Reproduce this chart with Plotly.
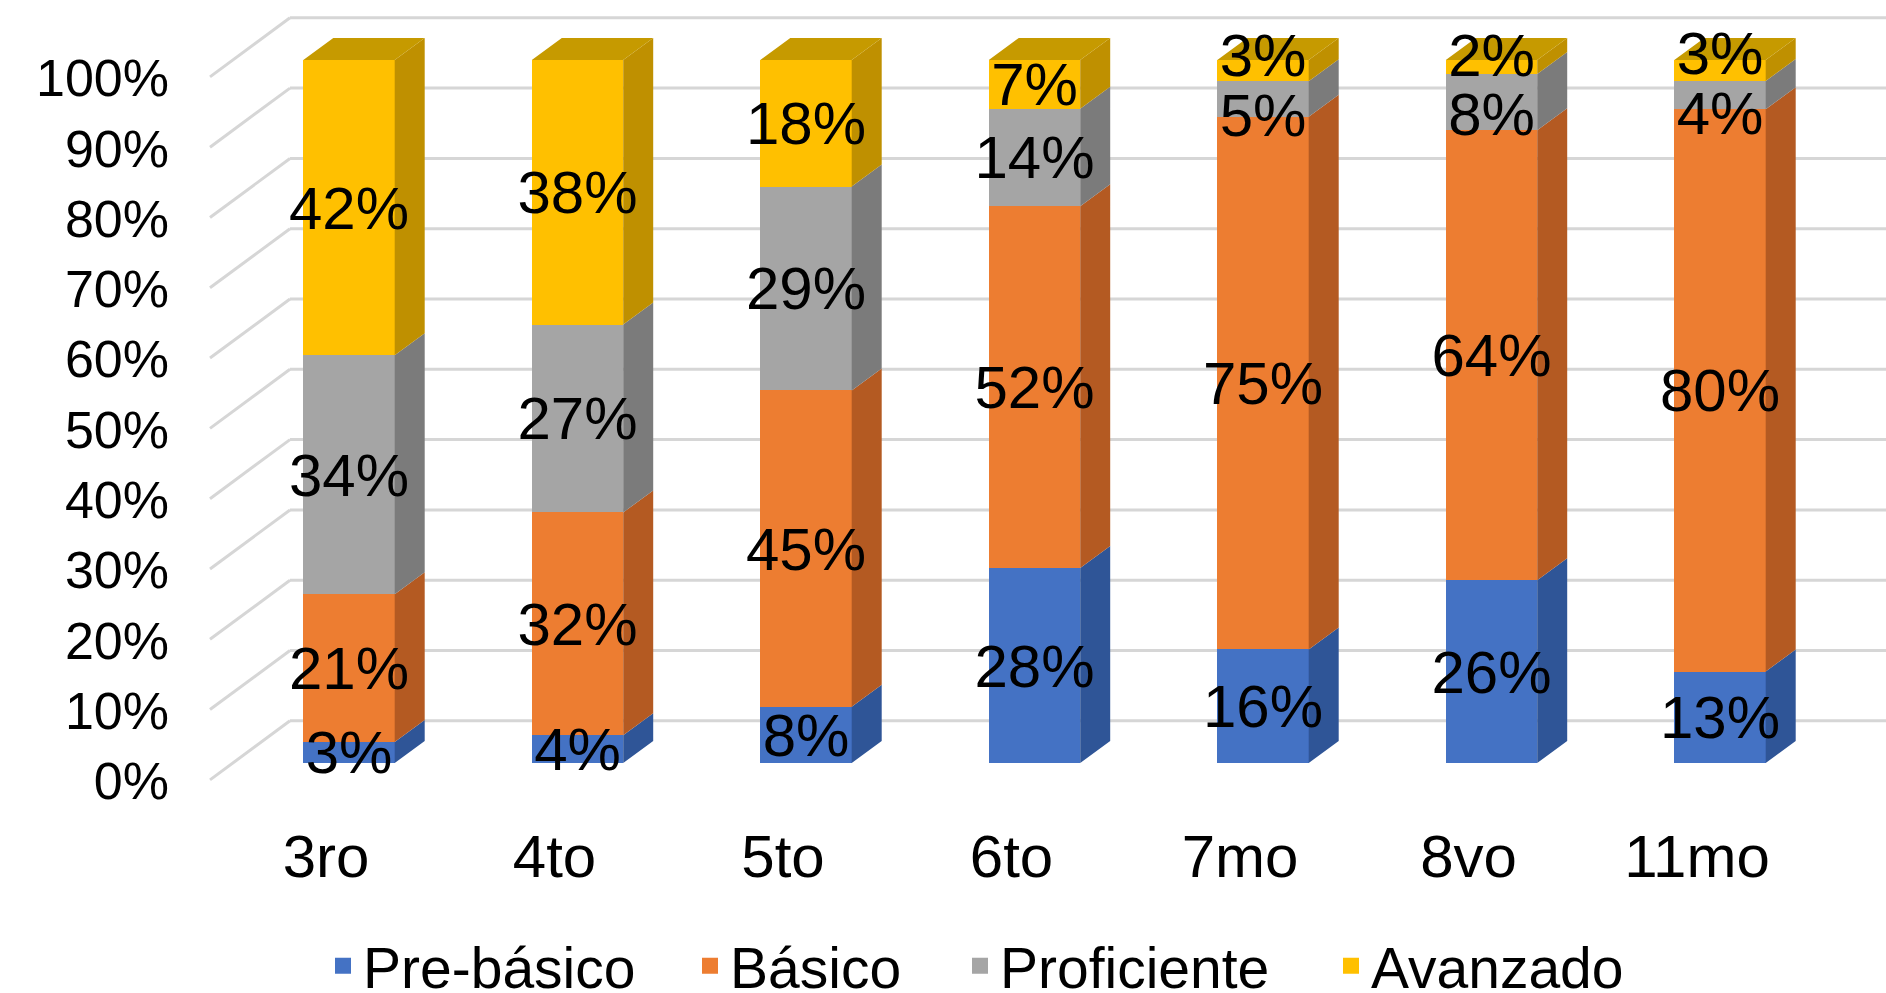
import numpy as np
import plotly.graph_objects as go

# ---------------- data ----------------
categories = ["3ro", "4to", "5to", "6to", "7mo", "8vo", "11mo"]
series_names = ["Pre-básico", "Básico", "Proficiente", "Avanzado"]
pre_basico = [3, 4, 8, 28, 16, 26, 13]
basico = [21, 32, 45, 52, 75, 64, 80]
proficiente = [34, 27, 29, 14, 5, 8, 4]
avanzado = [42, 38, 18, 7, 3, 2, 3]
y_ticks = [0, 10, 20, 30, 40, 50, 60, 70, 80, 90, 100]

# ---------------- style ----------------
front_colors = ["#4472C4", "#ED7D31", "#A5A5A5", "#FFC000"]
side_colors = ["#2F5597", "#B45A22", "#7B7B7B", "#BF9000"]
top_colors = ["#3A64B0", "#CC6A28", "#8E8E8E", "#C69A00"]
FONT = "Liberation Sans, Arial, sans-serif"
GRID = "#D6D6D6"
legend_left_px = [323, 690, 960, 1331]   # left edge of each legend entry box

W, H = 1886, 993
ML, MB = 170, 177
px_per_cat = 228.5
first_cat_px = 349
px_per_pct = 7.03
zero_px = 763

x0 = -(first_cat_px - ML) / px_per_cat
x1 = x0 + (W - ML) / px_per_cat
y_hi = zero_px / px_per_pct
y_lo = -((H - MB) - zero_px) / px_per_pct

BW = 0.40                      # bar front width (category units)
DX = 30 / px_per_cat           # depth offset (x)
DY = 22 / px_per_pct           # depth offset (y)
WALL_DY = 6.0                  # back wall offset
FLOOR_DY = -2.4                # front edge of side wall
WALL_X_FRONT = x0 + (210 - ML) / px_per_cat
WALL_X_BACK = x0 + (290 - ML) / px_per_cat
LABEL_MIN_SEP = 8.5            # min vertical separation of data labels (value units)
LABEL_DROP = 0.85              # visual centering correction for text (value units)

vals = np.array([pre_basico, basico, proficiente, avanzado], dtype=float)
idx = np.arange(len(categories))
pct = vals / vals.sum(axis=0) * 100
tops = np.cumsum(pct, axis=0)
bases = tops - pct

# label positions: segment middles, pushed apart when too close
label_y = (bases + tops) / 2
for i in idx:
    for s in range(1, len(series_names)):
        gap = label_y[s, i] - label_y[s - 1, i]
        if gap < LABEL_MIN_SEP:
            push = (LABEL_MIN_SEP - gap) / 2
            label_y[s, i] += push
            label_y[s - 1, i] -= push
label_y = label_y - LABEL_DROP

fig = go.Figure()

# front faces
for s in range(len(series_names)):
    fig.add_trace(go.Bar(
        x=idx, y=vals[s], width=BW, marker=dict(color=front_colors[s], line=dict(width=0)),
        showlegend=False, hoverinfo="skip"))

# side faces
for s in range(len(series_names)):
    xs, ys = [], []
    for i in idx:
        xr = i + BW / 2
        b, t = bases[s, i], tops[s, i]
        xs += [xr, xr + DX, xr + DX, xr, xr, None]
        ys += [b, b + DY, t + DY, t, b, None]
    fig.add_trace(go.Scatter(x=xs, y=ys, mode="lines", fill="toself",
                             fillcolor=side_colors[s], line=dict(width=0, color=side_colors[s]),
                             showlegend=False, hoverinfo="skip"))

# top faces (top segment of each bar)
xs, ys = [], []
for i in idx:
    xl, xr = i - BW / 2, i + BW / 2
    t = tops[-1, i]
    xs += [xl, xl + DX, xr + DX, xr, xl, None]
    ys += [t, t + DY, t + DY, t, t, None]
fig.add_trace(go.Scatter(x=xs, y=ys, mode="lines", fill="toself",
                         fillcolor=top_colors[-1], line=dict(width=0, color=top_colors[-1]),
                         showlegend=False, hoverinfo="skip"))

# data labels
for s in range(len(series_names)):
    fig.add_trace(go.Scatter(
        x=idx, y=label_y[s], mode="text",
        text=[f"{int(v)}%" for v in vals[s]], textposition="middle center",
        textfont=dict(family=FONT, size=60, color="#000000"),
        showlegend=False, hoverinfo="skip"))

# legend entries (one small legend per series so spacing matches)
legend_layouts = {}
for s in range(len(series_names)):
    key = "legend" if s == 0 else f"legend{s + 1}"
    fig.add_trace(go.Scatter(x=[None], y=[None], mode="markers", name=series_names[s],
                             legend=key,
                             marker=dict(symbol="square", size=20, color=front_colors[s])))
    legend_layouts[key] = dict(
        orientation="h", xref="container", yref="container",
        x=legend_left_px[s] / W, xanchor="left", y=0.027, yanchor="middle",
        font=dict(family=FONT, size=57, color="#000000"),
        itemwidth=30, bgcolor="rgba(0,0,0,0)")

# gridlines (back wall + slanted side wall)
shapes = []
for v in y_ticks:
    shapes.append(dict(type="line", xref="x", yref="y", layer="below",
                       x0=WALL_X_FRONT, y0=v + FLOOR_DY, x1=WALL_X_BACK, y1=v + WALL_DY,
                       line=dict(color=GRID, width=3)))
    shapes.append(dict(type="line", xref="x", yref="y", layer="below",
                       x0=WALL_X_BACK, y0=v + WALL_DY, x1=x1, y1=v + WALL_DY,
                       line=dict(color=GRID, width=3)))

fig.update_layout(
    width=W, height=H,
    margin=dict(l=ML, r=0, t=0, b=MB),
    paper_bgcolor="white", plot_bgcolor="white",
    barmode="stack", barnorm="percent", bargap=0,
    shapes=shapes,
    font=dict(family=FONT, color="#000000"),
    showlegend=True,
    xaxis=dict(range=[x0, x1], tickvals=list(idx), ticktext=categories,
               showgrid=False, zeroline=False, showline=False, ticks="",
               ticklabelshift=-23, tickfont=dict(family=FONT, size=60, color="#000000")),
    yaxis=dict(range=[y_lo, y_hi], tickvals=y_ticks, ticktext=[f"{v}%" for v in y_ticks],
               showgrid=False, zeroline=False, showline=False, ticks="",
               ticklabelshift=18, tickfont=dict(family=FONT, size=52, color="#000000")),
    **legend_layouts,
)

fig.write_html("out.html")
